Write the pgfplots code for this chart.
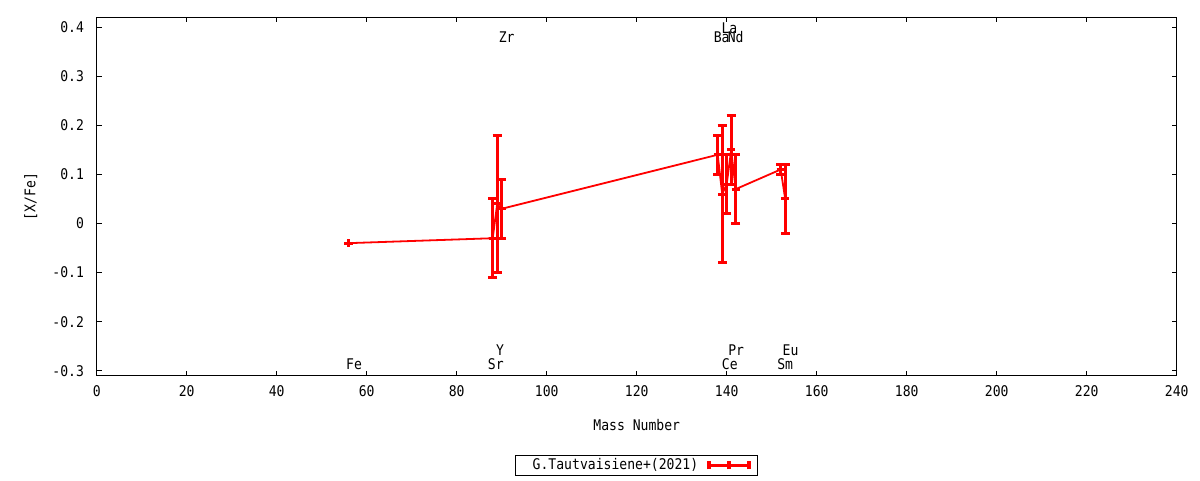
\documentclass[border=0pt]{standalone}
\usepackage{fontspec}
\setmainfont{DejaVu Sans Mono}[FakeStretch=0.89]
\usepackage{pgfplots}
\pgfplotsset{compat=1.18}
\pgfplotstableread{
m v e
56 -0.04 0.0
88 -0.03 0.08
89 0.04 0.14
90 0.03 0.06
138 0.14 0.04
139 0.06 0.14
140 0.08 0.06
141 0.15 0.07
142 0.07 0.07
152 0.11 0.01
153 0.05 0.07
}\tautdata
\begin{document}
\fontsize{14.7pt}{17pt}\selectfont
\begin{tikzpicture}[x=1pt,y=1pt]
\path[use as bounding box] (0,0) rectangle (1200,480);
\begin{axis}[
  at={(96.7pt,104.3pt)}, anchor=south west,
  scale only axis, width=1080pt, height=358.4pt,
  xmin=0, xmax=240, ymin=-0.31, ymax=0.42,
  xtick={0,20,40,60,80,100,120,140,160,180,200,220,240},
  xticklabels={0,20,40,60,80,100,120,140,160,180,200,220,240},
  ytick={-0.3,-0.2,-0.1,0,0.1,0.2,0.3,0.4},
  yticklabels={-0.3,-0.2,-0.1,0,0.1,0.2,0.3,0.4},
  tick align=inside, major tick length=5pt,
  tick style={black, line width=0.9pt},
  axis line style={black, line width=0.9pt},
  yticklabel style={anchor=east, inner sep=0pt, xshift=-12.5pt},
  xticklabel style={anchor=north, inner sep=0pt, yshift=-9.3pt},
  xlabel={Mass Number},
  xlabel style={at={(axis description cs:0.5,-0.1376)}, anchor=center, inner sep=0pt},
  ylabel={[X/Fe]},
  ylabel style={at={(axis description cs:-0.0611,0.5)}, anchor=center, inner sep=0pt, rotate=0},
  legend plot pos=right,
  legend style={at={(axis description cs:0.5,-0.2492)}, anchor=center, draw=black, line width=0.9pt,
    inner sep=0pt, row sep=0pt, column sep=0pt, nodes={inner sep=0pt}},
  legend image code/.code={
    \draw[line width=3pt, solid] (0pt,0pt) -- (43pt,0pt);
    \draw[line width=3.5pt, solid] (1.5pt,-4.4pt) -- (1.5pt,4.4pt);
    \draw[line width=3.5pt, solid] (41.5pt,-4.4pt) -- (41.5pt,4.4pt);
    \draw[line width=3.5pt, solid] (21.5pt,-4.4pt) -- (21.5pt,4.4pt);
    \path[draw=none, fill=none, use as bounding box] (0pt,-10pt) rectangle (50pt,10pt);
  },
]
\addplot[red, line width=1.8pt, mark=+, mark size=4pt, mark options={line width=3pt, solid},
  error bars/.cd, y dir=both, y explicit,
  error bar style={line width=3pt, red},
  error mark options={rotate=90, line width=3pt, mark size=4.5pt, red}]
  table[x=m, y=v, y error=e] {\tautdata};
\addlegendentry{\kern17pt G.Tautvaisiene+(2021)\kern8pt}
\node[anchor=base west, inner sep=0pt] at (axis cs:55.4,-0.2966) {Fe};
\node[anchor=base west, inner sep=0pt] at (axis cs:86.9,-0.2966) {Sr};
\node[anchor=base west, inner sep=0pt] at (axis cs:88.7,-0.268) {Y};
\node[anchor=base west, inner sep=0pt] at (axis cs:138.9,-0.2966) {Ce};
\node[anchor=base west, inner sep=0pt] at (axis cs:140.3,-0.268) {Pr};
\node[anchor=base west, inner sep=0pt] at (axis cs:151.2,-0.2966) {Sm};
\node[anchor=base west, inner sep=0pt] at (axis cs:152.4,-0.268) {Eu};
\node[anchor=base west, inner sep=0pt] at (axis cs:89.3,0.3685) {Zr};
\node[anchor=base west, inner sep=0pt] at (axis cs:137.1,0.3685) {Ba};
\node[anchor=base west, inner sep=0pt] at (axis cs:140.2,0.3685) {Nd};
\node[anchor=base west, inner sep=0pt] at (axis cs:138.8,0.388) {La};
\end{axis}
\end{tikzpicture}
\end{document}
